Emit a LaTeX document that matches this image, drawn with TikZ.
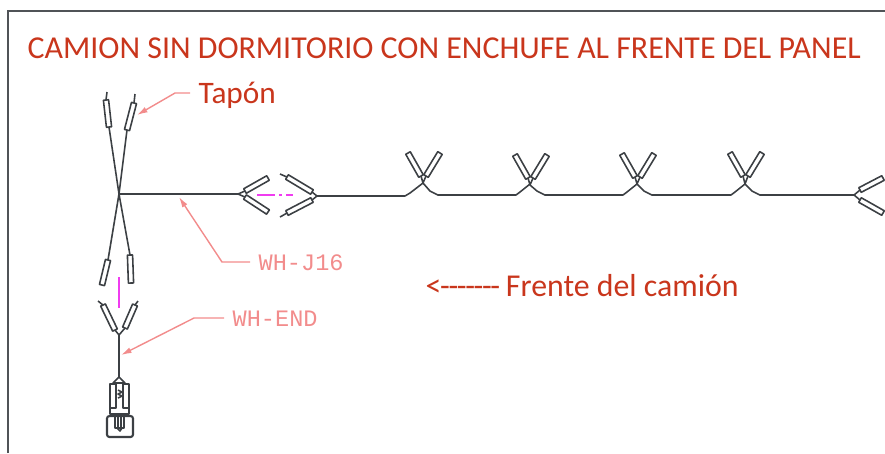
\documentclass[tikz,border=0pt]{standalone}
\usepackage{fontspec}
\setmainfont{Carlito}
\newfontfamily\cadfont{Liberation Mono}
\usetikzlibrary{calc,arrows.meta}

\definecolor{notered}{HTML}{C9361C}
\definecolor{leadpink}{HTML}{F28C8C}
\definecolor{wiregray}{HTML}{3C4044}
\definecolor{centermark}{HTML}{F03CF0}

% one boot of a connector: rectangle from #1 to #2
\newcommand{\boot}[2]{%
    \draw[wire] ($(#1)!0.026cm!90:(#2)$) -- ($(#2)!0.026cm!-90:(#1)$)
        -- ($(#2)!0.026cm!90:(#1)$) -- ($(#1)!0.026cm!-90:(#2)$) -- cycle;}
\newcommand{\dsh}{-\kern-0.39pt}

\begin{document}
\begin{tikzpicture}[x=0.01cm,y=-0.01cm,
    wire/.style={draw=wiregray,line width=0.45pt,line join=round},
    frameline/.style={draw=wiregray!90,line width=0.55pt},
    center/.style={draw=centermark,line width=0.5pt},
    leader/.style={draw=leadpink,line width=0.4pt,-{Latex[length=3pt,width=1.7pt]}},
    note/.style={text=notered,anchor=base west,inner sep=0pt},
    tag/.style={text=leadpink,anchor=base west,inner sep=0pt,
        font={\fontsize{6.7pt}{6.7pt}\cadfont}}]
\useasboundingbox (0,0) rectangle (885,453);
\draw[frameline] (8,453)--(8,11)--(885,11);

% texts
\node[note,font=\fontsize{9.07pt}{9pt}\selectfont] (title) at (27,58)
    {CAMION SIN DORMITORIO CON ENCHUFE AL FRENTE DEL PANEL};
\node[note,font=\fontsize{8.9pt}{9pt}\selectfont] (tapon) at (198,103) {Tapón};
\node[note,font=\fontsize{9.05pt}{9pt}\selectfont] (frente) at (425,296)
    {<\kern-0.39pt\dsh\dsh\dsh\dsh\dsh\dsh\dsh{} Frente del camión};
\node[tag] (wj) at (258,270) {WH-J16};
\node[tag] (wend) at (232,326) {WH-END};

% main junction
\coordinate (hub) at (119,194);
\coordinate (lefthead) at (238,194);
\coordinate (righthead) at (317,196);
\coordinate (lastx) at (854,195);
\coordinate (ytop) at (119,335);
\coordinate (plug) at (119,377);

\draw[wire] (109,127)--(hub)--(127,130);
\boot{109,127}{106,100}
\draw[wire] (106,100)--(107,92);
\boot{127,130}{134,103}
\draw[wire] (134,103)--(135,94);
\draw[wire] (108,260)--(hub)--(130,255);
\boot{108,260}{102,285}
\boot{130,255}{131,283}
\draw[wire] (hub)--(lefthead);

% connector pair
\draw[wire] (245,191)--(lefthead)--(245,197);
\boot{245,191}{268,178}
\boot{245,197}{268,212}
\draw[wire] (312,192)--(righthead)--(312,200);
\boot{312,192}{287,177}
\boot{312,200}{287,213}
\draw[wire] (287,177)--(280,174) (287,213)--(280,217);
\draw[center,dash pattern=on 5pt off 1.2pt on 0.8pt off 1.2pt] (257,195)--(293,195);
\draw[center] (119,277)--(119,308);

% splices on the main run
\foreach \sx/\sy/\nx in {423/183/530,530/185/637,637/184/745}{
    \boot{\sx-2,\sy-7}{\sx-15,\sy-30}
    \boot{\sx+3,\sy-7}{\sx+17,\sy-30}
    \draw[wire] (\sx-2,\sy-7)--(\sx,\sy)--(\sx+3,\sy-7);
    \draw[wire] (\sx,\sy)--(\sx+7,191)--(\sx+15,195)--(\nx-14,195)--(\nx-10,192)--(\nx,184);
}
\boot{743,176}{730,153}
\boot{748,176}{762,153}
\draw[wire] (743,176)--(745,184)--(748,176);
\draw[wire] (745,184)--(752,191)--(760,195)--(lastx);
\draw[wire] (righthead)--(405,196)--(410,193)--(423,183);

% last connector
\draw[wire] (860,190)--(lastx)--(860,200);
\boot{860,190}{883,178}
\boot{860,200}{883,213}

% branch down to the plug
\draw[wire] (115,330)--(ytop)--(125,328);
\boot{115,330}{103,305}
\boot{125,328}{135,305}
\draw[wire] (103,305)--(98,301) (135,305)--(138,301);
\draw[wire] (ytop)--(plug);
\draw[wire] (plug)--(113,383)--(125,383)--cycle;
\draw[wire] (116,384)--(110,384)--(110,414)--(129,414)--(129,384)--(123,384);
\draw[wire] (116,384)--(116,408)--(110,408) (123,384)--(123,408)--(129,408);
\draw[wire] (118,390)--(122,392)--(118,394)--(122,396)--(118,398);
\draw[wire,rounded corners=0.7pt,line width=0.6pt] (107,416) rectangle (133,437);
\draw[wire] (115,416)--(115,428)--(124,428)--(124,416) (118,416)--(118,428) (121,416)--(121,428)
    (117,428)--(120,431)--(122,428);

% leaders
\coordinate (taponend) at (190,93);
\coordinate (taponbend) at (175,93);
\coordinate (tapontip) at (137,115);
\coordinate (wjend) at (250,262);
\coordinate (wjbend) at (222,262);
\coordinate (wjtip) at (179,197);
\coordinate (wendend) at (224,318);
\coordinate (wendbend) at (194,318);
\coordinate (wendtip) at (121,355);
\draw[leader] (taponend)--(taponbend)--(tapontip);
\draw[leader] (wjend)--(wjbend)--(wjtip);
\draw[leader] (wendend)--(wendbend)--(wendtip);
\end{tikzpicture}
\end{document}
